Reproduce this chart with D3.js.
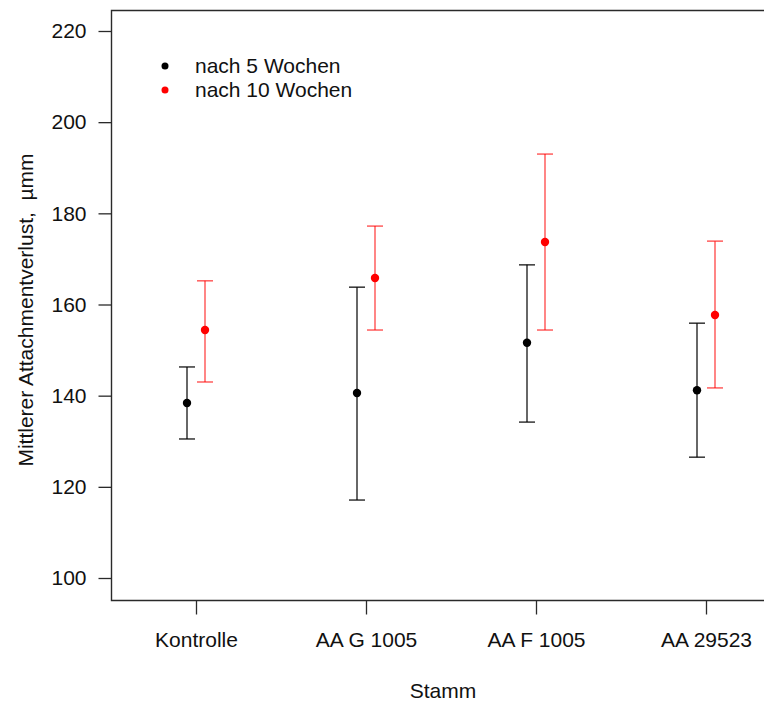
<!DOCTYPE html>
<html>
<head>
<meta charset="utf-8">
<script src="https://cdn.jsdelivr.net/npm/d3@7"></script>
<style>
  body { margin: 0; background: #fff; }
  text { font-family: "Liberation Sans", Arial, sans-serif; fill: #111; }
</style>
</head>
<body>
<div class="canvas"></div>
<script>
const categories = ['Kontrolle', 'AA G 1005', 'AA F 1005', 'AA 29523'];
const mean5 = [138.4, 140.6, 151.6, 141.2];
const lower5 = [130.5, 117.1, 134.2, 126.5];
const upper5 = [146.3, 163.8, 168.7, 155.9];
const mean10 = [154.4, 165.8, 173.7, 157.7];
const lower10 = [143.0, 154.4, 154.4, 141.7];
const upper10 = [165.2, 177.2, 193.0, 173.9];
const yTicks = [100, 120, 140, 160, 180, 200, 220];
const seriesNames = ['nach 5 Wochen', 'nach 10 Wochen'];

const width = 764;
const height = 701;
const fontSize = '21px';

const svg = d3.select('.canvas')
    .append('svg')
    .attr('width', width)
    .attr('height', height);

const y = d3.scaleLinear()
    .domain([100, 220])
    .range([578, 31]);

const x = d3.scalePoint()
    .domain(categories)
    .range([196, 706]);

// plot frame (right side runs off the picture)
svg.append('path')
    .attr('d', 'M770,10.5 H111.5 V600.5 H770')
    .attr('fill', 'none')
    .attr('stroke', '#2a2a2a')
    .attr('stroke-width', 1.4);

////////// AXES ///////////////////
const yAxis = d3.axisLeft(y)
    .tickValues(yTicks)
    .tickSize(13)
    .tickPadding(12);

const gY = svg.append('g')
    .attr('transform', 'translate(111.5, 0)')
    .call(yAxis);
gY.select('.domain').remove();
gY.selectAll('line').attr('stroke', '#2a2a2a').attr('stroke-width', 1.3);
gY.selectAll('text')
    .style('font-size', fontSize)
    .attr('fill', '#111');

const xAxis = d3.axisBottom(x)
    .tickSize(14)
    .tickPadding(18);

const gX = svg.append('g')
    .attr('transform', 'translate(0, 600.5)')
    .call(xAxis);
gX.select('.domain').remove();
gX.selectAll('line').attr('stroke', '#2a2a2a').attr('stroke-width', 1.3);
gX.selectAll('text')
    .style('font-size', fontSize)
    .attr('fill', '#111');

svg.append('text')
    .attr('x', 443)
    .attr('y', 698)
    .attr('text-anchor', 'middle')
    .style('font-size', fontSize)
    .text('Stamm');

svg.append('text')
    .attr('transform', 'translate(33, 310) rotate(-90)')
    .attr('text-anchor', 'middle')
    .style('font-size', fontSize)
    .text('Mittlerer Attachmentverlust,  \u00b5mm')
    .attr('xml:space', 'preserve')
    .style('white-space', 'pre');

////////// ERROR BARS ///////////////////
const rows = categories.map((c, i) => ({
    cat: c,
    series: [
        {m: mean5[i], lo: lower5[i], hi: upper5[i], dx: -9, color: '#000', bar: 'rgba(0,0,0,0.75)'},
        {m: mean10[i], lo: lower10[i], hi: upper10[i], dx: 9, color: '#ff0000', bar: 'rgba(255,0,0,0.6)'}
    ]
}));

const pts = rows.flatMap(r => r.series.map(s => Object.assign({cat: r.cat}, s)));

const cap = 8;
const g = svg.append('g');

g.selectAll('line.bar')
    .data(pts)
    .enter()
    .append('line')
    .attr('class', 'bar')
    .attr('x1', d => x(d.cat) + d.dx)
    .attr('x2', d => x(d.cat) + d.dx)
    .attr('y1', d => y(d.lo))
    .attr('y2', d => y(d.hi))
    .attr('stroke', d => d.bar)
    .attr('stroke-width', 1.6);

g.selectAll('line.capHi')
    .data(pts)
    .enter()
    .append('line')
    .attr('class', 'capHi')
    .attr('x1', d => x(d.cat) + d.dx - cap)
    .attr('x2', d => x(d.cat) + d.dx + cap)
    .attr('y1', d => y(d.hi))
    .attr('y2', d => y(d.hi))
    .attr('stroke', d => d.bar)
    .attr('stroke-width', 1.6);

g.selectAll('line.capLo')
    .data(pts)
    .enter()
    .append('line')
    .attr('class', 'capLo')
    .attr('x1', d => x(d.cat) + d.dx - cap)
    .attr('x2', d => x(d.cat) + d.dx + cap)
    .attr('y1', d => y(d.lo))
    .attr('y2', d => y(d.lo))
    .attr('stroke', d => d.bar)
    .attr('stroke-width', 1.6);

g.selectAll('circle')
    .data(pts)
    .enter()
    .append('circle')
    .attr('cx', d => x(d.cat) + d.dx)
    .attr('cy', d => y(d.m))
    .attr('r', 4.2)
    .attr('fill', d => d.color);

////////// LEGEND ///////////////////
const legend = svg.append('g');
const legendColors = ['#000', '#ff0000'];
seriesNames.forEach((name, i) => {
    legend.append('circle')
        .attr('cx', 165)
        .attr('cy', 66 + i * 24)
        .attr('r', 3.5)
        .attr('fill', legendColors[i]);
    legend.append('text')
        .attr('x', 195)
        .attr('y', 66 + i * 24)
        .attr('dy', '0.35em')
        .style('font-size', fontSize)
        .text(name);
});
</script>
</body>
</html>
